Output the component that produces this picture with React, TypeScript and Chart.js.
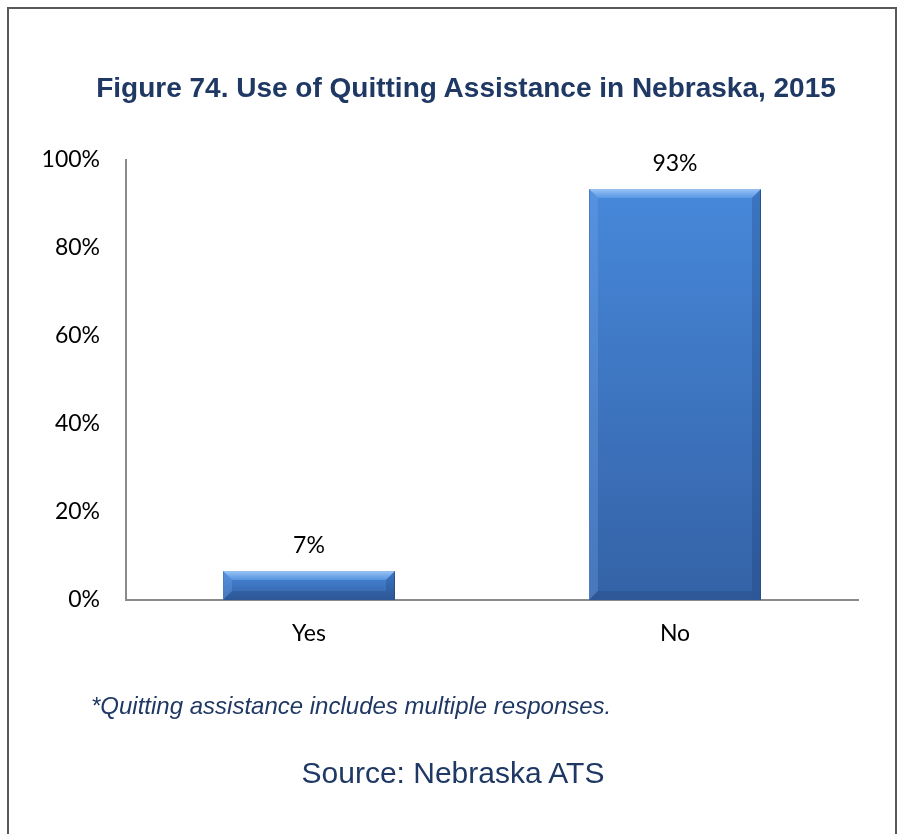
import React, { useEffect, useRef } from "react";
import { Chart, registerables } from "chart.js";

Chart.register(...registerables);

const categories = ["Yes", "No"];
const values = [6.6, 93.4];
const valueLabels = ["7%", "93%"];
const yTicks = [0, 20, 40, 60, 80, 100];

const titleText = "Figure 74. Use of Quitting Assistance in Nebraska, 2015";
const footnoteText = "*Quitting assistance includes multiple responses.";
const sourceText = "Source: Nebraska ATS";

const NAVY = "#1F3864";
const TICK_FONT = "Lato, 'Open Sans', sans-serif";

const bevelPlugin = {
  id: "bevel",
  beforeDatasetsDraw(chart: any) {
    const ctx = chart.ctx;
    ctx.save();
    ctx.shadowColor = "rgba(0,0,0,0.3)";
    ctx.shadowBlur = 5;
    ctx.shadowOffsetX = 2;
    ctx.shadowOffsetY = 2;
  },
  afterDatasetsDraw(chart: any) {
    const ctx = chart.ctx;
    ctx.restore();
    const meta = chart.getDatasetMeta(0);
    meta.data.forEach((el: any, i: number) => {
      const { x, y, base, width } = el.getProps(["x", "y", "base", "width"], true);
      const l = x - width / 2;
      const r = x + width / 2;
      const t = y;
      const b = base;
      const bv = Math.min(9, (b - t) / 3);
      ctx.save();
      // per-bar body gradient
      let body = ctx.createLinearGradient(0, t, 0, b);
      body.addColorStop(0, "#4788DA");
      body.addColorStop(1, "#3462A6");
      ctx.fillStyle = body;
      ctx.fillRect(l + 1, t + 1, width - 2, b - t - 1);
      // top bevel
      let g = ctx.createLinearGradient(0, t, 0, t + bv);
      g.addColorStop(0, "rgba(160,200,248,0.95)");
      g.addColorStop(1, "rgba(105,165,235,0.6)");
      ctx.fillStyle = g;
      ctx.beginPath();
      ctx.moveTo(l, t);
      ctx.lineTo(r, t);
      ctx.lineTo(r - bv, t + bv);
      ctx.lineTo(l + bv, t + bv);
      ctx.closePath();
      ctx.fill();
      // left bevel
      ctx.fillStyle = "rgba(120,170,235,0.3)";
      ctx.beginPath();
      ctx.moveTo(l, t);
      ctx.lineTo(l + bv, t + bv);
      ctx.lineTo(l + bv, b - bv);
      ctx.lineTo(l, b);
      ctx.closePath();
      ctx.fill();
      // right bevel
      ctx.fillStyle = "rgba(20,50,100,0.22)";
      ctx.beginPath();
      ctx.moveTo(r, t);
      ctx.lineTo(r - bv, t + bv);
      ctx.lineTo(r - bv, b - bv);
      ctx.lineTo(r, b);
      ctx.closePath();
      ctx.fill();
      // bottom bevel
      ctx.fillStyle = "rgba(20,45,90,0.2)";
      ctx.beginPath();
      ctx.moveTo(l, b);
      ctx.lineTo(l + bv, b - bv);
      ctx.lineTo(r - bv, b - bv);
      ctx.lineTo(r, b);
      ctx.closePath();
      ctx.fill();
      ctx.restore();

      // value label
      ctx.save();
      ctx.fillStyle = "#000";
      ctx.font = `23px ${TICK_FONT}`;
      ctx.textAlign = "center";
      ctx.textBaseline = "middle";
      ctx.fillText(valueLabels[i], x, t - 25);
      ctx.restore();
    });
  },
};

export default function App() {
  const ref = useRef<HTMLCanvasElement>(null);

  useEffect(() => {
    if (!ref.current) return;
    const chart = new Chart(ref.current, {
      type: "bar",
      data: {
        labels: categories,
        datasets: [
          {
            data: values,
            backgroundColor: "#3F78C8",
            borderColor: "#3A6CB5",
            borderWidth: 1,
            categoryPercentage: 1,
            barPercentage: 0.47,
          },
        ],
      },
      options: {
        animation: false,
        responsive: false,
        maintainAspectRatio: false,
        layout: { padding: { top: 160, right: 43, bottom: 174, left: 0 } },
        plugins: {
          legend: { display: false },
          tooltip: { enabled: false },
          title: { display: false },
        },
        scales: {
          x: {
            grid: { display: false, drawTicks: false },
            border: { display: true, color: "#8A8A8A", width: 2 },
            ticks: {
              color: "#000",
              font: { family: TICK_FONT, size: 23 },
              padding: 20,
            },
            afterFit: (s: any) => {
              s.height = 60;
            },
          },
          y: {
            min: 0,
            max: 100,
            afterBuildTicks: (s: any) => {
              s.ticks = yTicks.map((v) => ({ value: v }));
            },
            grid: { display: false, drawTicks: false },
            border: { display: true, color: "#8A8A8A", width: 2 },
            ticks: {
              color: "#000",
              font: { family: TICK_FONT, size: 23 },
              padding: 26,
              callback: (v: any) => `${v}%`,
            },
            afterFit: (s: any) => {
              s.width = 126;
            },
          },
        },
      },
      plugins: [bevelPlugin],
    });
    return () => chart.destroy();
  }, []);

  return (
    <div
      style={{
        position: "absolute",
        left: 0,
        top: 0,
        width: 901,
        height: 834,
        overflow: "hidden",
        background: "#fff",
        fontFamily: "'Liberation Sans', Arial, sans-serif",
      }}
    >
      <div
        style={{
          position: "absolute",
          left: 7,
          top: 7,
          width: 890,
          height: 900,
          boxSizing: "border-box",
          border: "2px solid #595959",
        }}
      />
      <canvas
        ref={ref}
        width={901}
        height={834}
        style={{ position: "absolute", left: 0, top: 0, width: 901, height: 834 }}
      />
      <div
        style={{
          position: "absolute",
          left: 0,
          width: 932,
          top: 88,
          transform: "translateY(-50%)",
          textAlign: "center",
          fontWeight: "bold",
          fontSize: 28,
          lineHeight: "34px",
          color: NAVY,
          whiteSpace: "nowrap",
        }}
      >
        {titleText}
      </div>
      <div
        style={{
          position: "absolute",
          left: 91,
          top: 706,
          transform: "translateY(-50%)",
          fontStyle: "italic",
          fontSize: 24,
          lineHeight: "30px",
          color: NAVY,
          whiteSpace: "nowrap",
        }}
      >
        {footnoteText}
      </div>
      <div
        style={{
          position: "absolute",
          left: 0,
          width: 906,
          top: 773,
          transform: "translateY(-50%)",
          textAlign: "center",
          fontSize: 30,
          lineHeight: "36px",
          color: NAVY,
          whiteSpace: "nowrap",
        }}
      >
        {sourceText}
      </div>
    </div>
  );
}
